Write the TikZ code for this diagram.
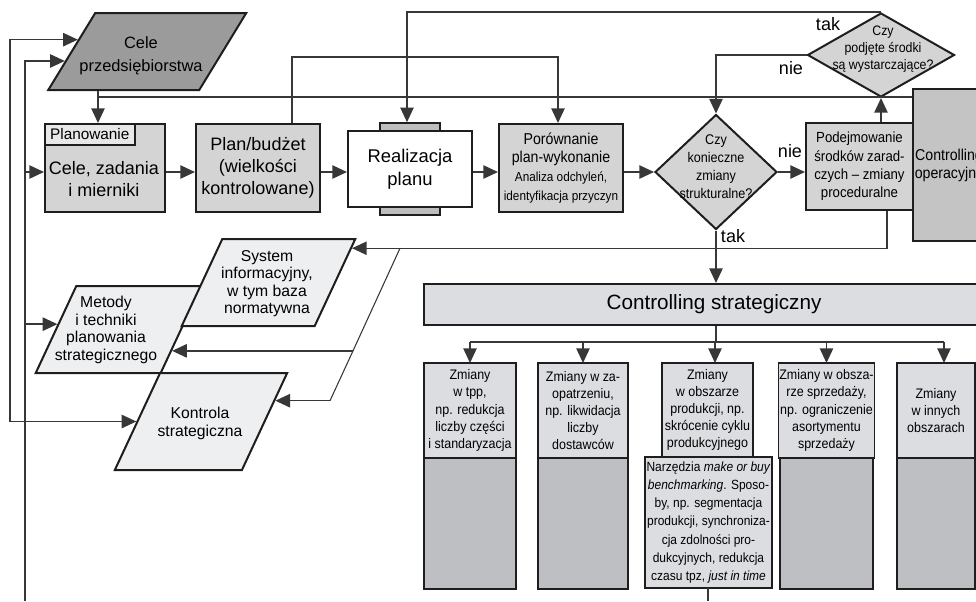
\documentclass[tikz,border=0pt]{standalone}
\usepackage{fontspec}
\setmainfont{Liberation Sans}
\newfontfamily\narrowfont[FakeStretch=0.9]{Liberation Sans}
\usetikzlibrary{arrows.meta,shapes.geometric,calc}

\definecolor{darkfill}{RGB}{155,155,155}
\definecolor{boxfill}{RGB}{212,212,212}
\definecolor{tagfill}{RGB}{232,232,232}
\definecolor{tabfill}{RGB}{190,190,190}
\definecolor{opfill}{RGB}{196,196,196}
\definecolor{palefill}{RGB}{220,221,224}
\definecolor{lowfill}{RGB}{190,191,194}
\definecolor{parfill}{RGB}{238,239,241}
\definecolor{edge}{RGB}{30,30,30}
\definecolor{wire}{RGB}{55,55,55}

\begin{document}
\begin{tikzpicture}[x=0.75pt,y=0.75pt,yscale=-1,xscale=1,
  box/.style={draw=edge,line width=1.5pt,fill=boxfill,inner sep=1pt,align=center},
  para/.style={draw=edge,line width=1.5pt,fill=parfill,shape=trapezium,trapezium left angle=65,trapezium right angle=115},
  dmd/.style={draw=edge,line width=1.5pt,fill=boxfill,shape=diamond,inner sep=0pt},
  btop/.style={draw=edge,line width=1.2pt,fill=palefill,outer sep=0pt,inner sep=0.5pt,align=center,minimum height=71.25pt,font=\narrowfont\fontsize{10.4}{12.9}\selectfont},
  low/.style={draw=edge,line width=1.2pt,fill=lowfill,outer sep=0pt,anchor=north,minimum height=98.25pt},
  main/.style={font=\fontsize{13.5}{16.5}\selectfont},
  ptxt/.style={inner sep=0pt,align=center,font=\fontsize{11.8}{13.1}\selectfont},
  dtxt/.style={inner sep=0pt,align=center,font=\narrowfont\fontsize{10.5}{13.5}\selectfont},
  lab/.style={inner sep=0pt,font=\fontsize{13.5}{16}\selectfont},
  wire/.style={draw=wire,line width=1.1pt},
  arr/.style={wire,-{Triangle[length=11pt,width=10pt]}},
  arrboth/.style={wire,{Triangle[length=11pt,width=10pt]}-{Triangle[length=11pt,width=10pt]}}]
\clip (0,0) rectangle (976,601);

%Shape: Parallelogram [goals]
\node[para,fill=darkfill,trapezium left angle=58.6,trapezium right angle=121.4,inner xsep=39pt,inner ysep=28.875pt] (cele) at (147.25,51.5) {};
\node[ptxt,font=\fontsize{12.3}{17}\selectfont] (celetxt) at (141,56) {Cele\\przedsiębiorstwa};

%Shape: Rectangle [planning]
\node[box,minimum width=90pt,minimum height=66pt] (plan) at (105,168) {};
\node[box,fill=tagfill,line width=1.2pt,anchor=north west,minimum width=67.5pt,minimum height=15.75pt,font=\fontsize{11.5}{13}\selectfont] (plantag) at (plan.north west) {Planowanie};
\node[main,inner sep=0pt,align=center] (plantxt) at (104,179) {Cele, zadania\\i mierniki};
%Shape: Rectangle [budget]
\node[box,main,minimum width=93pt,minimum height=66pt] (budzet) at (258,168) {Plan/budżet\\(wielkości\\kontrolowane)};
%Shape: Rectangle [execution]
\node[box,fill=tabfill,line width=1.2pt,minimum width=45pt,minimum height=6pt] (realt) at (410,127) {};
\node[box,fill=tabfill,line width=1.2pt,minimum width=45pt,minimum height=6pt] (realb) at (410,211) {};
\node[box,fill=white,minimum width=93pt,minimum height=57pt,font=\fontsize{13.8}{17}\selectfont] (real) at (410,169) {Realizacja\\planu};
%Shape: Rectangle [comparison]
\node[box,minimum width=93pt,minimum height=66pt,font=\narrowfont\fontsize{11.8}{14.2}\selectfont] (por) at (561,168) {Porównanie\\plan-wykonanie\\\fontsize{9.8}{14.2}\selectfont Analiza odchyleń,\\\fontsize{9.8}{14.2}\selectfont identyfikacja przyczyn};
%Shape: Diamond [structural changes]
\node[dmd,minimum width=91.5pt,minimum height=86.25pt] (dmd1) at (716,172) {};
\node[dtxt] (dmd1txt) at (716,167) {Czy\\konieczne\\zmiany\\strukturalne?};
%Shape: Rectangle [remedies]
\node[box,minimum width=80.25pt,minimum height=65.25pt,font=\narrowfont\fontsize{11}{13.7}\selectfont] (podej) at (859.5,166.5) {Podejmowanie\\środków zarad-\\czych – zmiany\\proceduralne};
%Shape: Diamond [sufficient]
\node[dmd,minimum width=110.25pt,minimum height=63pt] (dmd2) at (881,55) {};
\node[dtxt,font=\narrowfont\fontsize{10.3}{13}\selectfont] (dmd2txt) at (883,49) {Czy\\podjęte środki\\są wystarczające?};
%Shape: Rectangle [operational]
\node[box,fill=opfill,minimum width=54pt,minimum height=114pt,font=\narrowfont\fontsize{11.8}{13.5}\selectfont] (contop) at (949,165) {Controlling\\operacyjny};

%Shape: Parallelograms [strategic side]
\node[para,inner xsep=31.65pt,inner ysep=32.625pt] (met) at (118.5,329.5) {};
\node[ptxt] (mettxt) at (106,330) {Metody\\i techniki\\planowania\\strategicznego};
\node[para,inner xsep=34.65pt,inner ysep=32.625pt] (sys) at (268.5,282.5) {};
\node[ptxt] (systxt) at (267,283.5) {System\\informacyjny,\\w tym baza\\normatywna};
\node[para,inner xsep=30.7pt,inner ysep=36.375pt] (kon) at (201,421.5) {};
\node[ptxt] (kontxt) at (200,423.5) {Kontrola\\strategiczna};

%Shape: Rectangle [strategic controlling]
\node[box,fill=palefill,minimum width=435pt,minimum height=30.75pt,font=\fontsize{15.5}{18}\selectfont] (strat) at (714,304.5) {Controlling strategiczny};

%Shape: Rectangles [areas of change]
\node[btop,minimum width=69pt] (b1) at (470,410.5) {Zmiany\\w tpp,\\np. redukcja\\liczby części\\i standaryzacja};
\node[low,minimum width=69pt] (b1l) at (b1.south) {};
\node[btop,minimum width=67.5pt] (b2) at (583,410.5) {Zmiany w za-\\opatrzeniu,\\np. likwidacja\\liczby\\dostawców};
\node[low,minimum width=67.5pt] (b2l) at (b2.south) {};
\node[btop,minimum width=68.25pt,minimum height=70.5pt] (b3) at (707.5,410) {Zmiany\\w obszarze\\produkcji, np.\\skrócenie cyklu\\produkcyjnego};
\node[btop,minimum width=95.25pt,minimum height=98.25pt,font=\narrowfont\fontsize{10}{13.7}\selectfont] (narz) at (708.5,522.5) {Narzędzia \textit{make or buy}\\\textit{benchmarking}. Sposo-\\by, np. segmentacja\\produkcji, synchroniza-\\cja zdolności pro-\\dukcyjnych, redukcja\\czasu tpz, \textit{just in time}};
\node[btop,minimum width=69.75pt] (b4) at (826.5,410.5) {Zmiany w obsza-\\rze sprzedaży,\\np. ograniczenie\\asortymentu\\sprzedaży};
\node[low,minimum width=69.75pt] (b4l) at (b4.south) {};
\node[btop,minimum width=58.5pt] (b5) at (936,410.5) {Zmiany\\w innych\\obszarach};
\node[low,minimum width=58.5pt] (b5l) at (b5.south) {};

%Coordinates on slanted sides
\coordinate (jcele) at (98,97);
\coordinate (celein1) at ($(cele.top left corner)!0.35!(cele.bottom left corner)$);
\coordinate (celein2) at ($(cele.top left corner)!0.62!(cele.bottom left corner)$);
\coordinate (metin2) at ($(met.top left corner)!0.44!(met.bottom left corner)$);
\coordinate (konin2) at ($(kon.top left corner)!0.5!(kon.bottom left corner)$);
\coordinate (sysin) at ($(sys.top right corner)!0.115!(sys.bottom right corner)$);
\coordinate (metin) at ($(met.top right corner)!0.74!(met.bottom right corner)$);
\coordinate (konin) at ($(kon.top right corner)!0.29!(kon.bottom right corner)$);
\coordinate (d0) at (sysin -| 400,0);
\coordinate (d1) at (metin -| 353,0);
\coordinate (d2) at (konin -| 330,0);

%Straight Lines [main row]
\draw[wire] (cele.south -| jcele) -- (jcele);
\draw[arr] (jcele) -- (plan.north -| jcele);
\draw[wire] (jcele) -- (contop.west |- jcele);
\draw[arr] (plan.east |- dmd1) -- (budzet.west |- dmd1);
\draw[arr] (budzet.east |- dmd1) -- (real.west |- dmd1);
\draw[arr] (real.east |- dmd1) -- (por.west |- dmd1);
\draw[arr] (por.east |- dmd1) -- (dmd1.west);
\draw[arr] (dmd1.east) -- (podej.west |- dmd1);
\draw[arr] (budzet.north -| 292,0) |- (558,57) -- (por.north -| 558,0);
\draw[arr] (dmd2.north) -| (realt.north -| 407,0);
\draw[arr] (dmd2.west) -| (dmd1.north);
\draw[arr] (podej.north -| dmd2.south) -- (dmd2.south);
\draw[arr] (dmd1.south) -- (strat.north -| dmd1.south);

%Straight Lines [feedback]
\draw[arr] (podej.south -| 887,0) |- (sysin);
\draw[wire,line width=0.8pt] (d0) -- (d1) -- (d2);
\draw[arr] (d1) -- (metin);
\draw[arr] (d2) -- (konin);
\draw[arrboth] (konin2) -| (celein1 -| 10,0) -- (celein1);
\draw[arr] (25,601) |- (celein2);
\draw[arr] (plan.west |- dmd1 -| 25,0) -- (plan.west |- dmd1);
\draw[arr] (metin2 -| 25,0) -- (metin2);

%Straight Lines [strategic bus]
\draw[wire] (strat.south -| dmd1) -- (dmd1 |- 0,342);
\draw[wire] (470,342) -- (944,342);
\draw[arr] (b1.north |- 0,342) -- (b1.north);
\draw[arr] (b2.north |- 0,342) -- (b2.north);
\draw[arr] (715,342) -- (b3.north -| 715,0);
\draw[arr] (b4.north |- 0,342) -- (b4.north);
\draw[arr] (944,342) -- (b5.north -| 944,0);
\draw[wire] (narz.south -| 708,0) -- (708,601);

% Text Node
\node[lab] (tak1) at (828,24) {tak};
% Text Node
\node[lab] (nie1) at (791,68) {nie};
% Text Node
\node[lab] (nie2) at (790,151) {nie};
% Text Node
\node[lab] (tak2) at (733,236) {tak};

\end{tikzpicture}
\end{document}
